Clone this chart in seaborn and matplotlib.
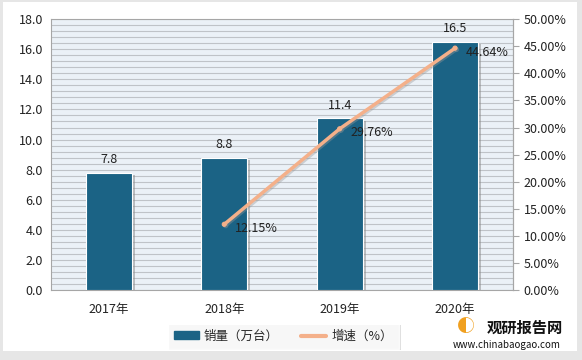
import numpy as np
import pandas as pd
import matplotlib
matplotlib.use("Agg")
import matplotlib.pyplot as plt
import seaborn as sns
from matplotlib.patches import Rectangle, Patch
from matplotlib.lines import Line2D
import matplotlib.patheffects as pe
from matplotlib.ticker import FuncFormatter, MultipleLocator

# data
years = ["2017年", "2018年", "2019年", "2020年"]
sales = [7.8, 8.8, 11.4, 16.5]
growth_years = ["2018年", "2019年", "2020年"]
growth = [12.15, 29.76, 44.64]

bar_color = "#1B6385"
line_color = "#F4B08A"

sns.set_theme(style="white")
plt.rcParams["font.family"] = ["Noto Sans CJK SC", "DejaVu Sans"]
plt.rcParams["axes.unicode_minus"] = False

fig = plt.figure(figsize=(5.82, 3.6), dpi=100)
fig.patch.set_facecolor("#E6E6E6")
fig.patches.append(Rectangle((0.006, 0.025), 0.985, 0.97, transform=fig.transFigure,
                             facecolor="white", edgecolor="none", zorder=-10))

ax = fig.add_axes([0.088, 0.194, 0.793, 0.753])
ax.set_facecolor("#EBF1F7")

df = pd.DataFrame({"year": years, "sales": sales})
sns.barplot(data=df, x="year", y="sales", color=bar_color, width=0.4,
            saturation=1, ax=ax, zorder=3)
for p in ax.patches:
    p.set_edgecolor("white")
    p.set_linewidth(0.8)
    p.set_path_effects([pe.SimplePatchShadow(offset=(2, -2), shadow_rgbFace="#888888", alpha=0.5),
                        pe.Normal()])

ax.set_ylim(0, 18)
ax.yaxis.set_major_locator(MultipleLocator(2))
ax.yaxis.set_minor_locator(MultipleLocator(0.4))
ax.yaxis.set_major_formatter(FuncFormatter(lambda v, _: f"{v:.1f}"))
ax.grid(which="both", axis="y", color="#BFC3C8", linewidth=0.8, zorder=0)
ax.set_axisbelow(True)
ax.set_xlabel("")
ax.set_ylabel("")
ax.tick_params(axis="y", which="both", length=0, labelsize=9, colors="#222222", pad=6)
ax.tick_params(axis="x", length=0, labelsize=9, colors="#222222", pad=9)
for s in ax.spines.values():
    s.set_color("#A6A6A6")
    s.set_linewidth(0.8)

for i, v in enumerate(sales):
    ax.text(i, v + 0.45, f"{v}", ha="center", va="bottom", fontsize=9, color="#222222", zorder=5)

ax2 = ax.twinx()
gx = [years.index(y) for y in growth_years]
gdf = pd.DataFrame({"x": gx, "growth": growth})
sns.lineplot(data=gdf, x="x", y="growth", color=line_color, linewidth=2.5, ax=ax2,
             marker="o", markersize=3, markeredgecolor=line_color, zorder=4,
             path_effects=[pe.SimpleLineShadow(offset=(1, -1), shadow_color="#999999", alpha=0.4),
                           pe.Normal()])
ax2.set_ylim(0, 50)
ax2.yaxis.set_major_locator(MultipleLocator(5))
ax2.yaxis.set_major_formatter(FuncFormatter(lambda v, _: f"{v:.2f}%"))
ax2.tick_params(axis="y", length=4, width=0.8, color="#A6A6A6", labelsize=9,
                labelcolor="#222222", pad=4)
ax2.set_ylabel("")
ax2.set_xlabel("")
for s in ax2.spines.values():
    s.set_visible(False)
ax2.spines["right"].set_visible(True)
ax2.spines["right"].set_color("#A6A6A6")
ax2.spines["right"].set_linewidth(0.8)
ax.set_xlim(-0.5, len(years) - 0.5)
ax2.set_xlim(-0.5, len(years) - 0.5)

for x, v in zip(gx, growth):
    ax2.annotate(f"{v:.2f}%", (x, v), xytext=(8, -3), textcoords="offset points",
                 ha="left", va="center", fontsize=9, color="#222222", zorder=6)

handles = [Patch(facecolor=bar_color, edgecolor=bar_color),
           Line2D([0], [0], color=line_color, linewidth=3)]
leg = fig.legend(handles, ["销量（万台）", "增速（%）"], loc="center",
                 bbox_to_anchor=(0.487, 0.066), ncol=2, fontsize=9, frameon=True,
                 fancybox=False, shadow=False, edgecolor="white", handlelength=2.0,
                 handleheight=0.6, handletextpad=0.4, columnspacing=1.8, borderpad=0.5)
leg.get_frame().set_path_effects([pe.SimplePatchShadow(offset=(1, -1), alpha=0.2), pe.Normal()])

# watermark
fig.text(0.902, 0.09, "观研报告网", ha="center", va="center", fontsize=11,
         fontweight="bold", color="#111111")
fig.text(0.87, 0.043, "www.chinabaogao.com", ha="center", va="center", fontsize=7,
         color="#111111")
fig.text(0.8, 0.092, "◐", ha="center", va="center", fontsize=13, color="#F0A020")

fig.savefig("out.png", dpi=100)
